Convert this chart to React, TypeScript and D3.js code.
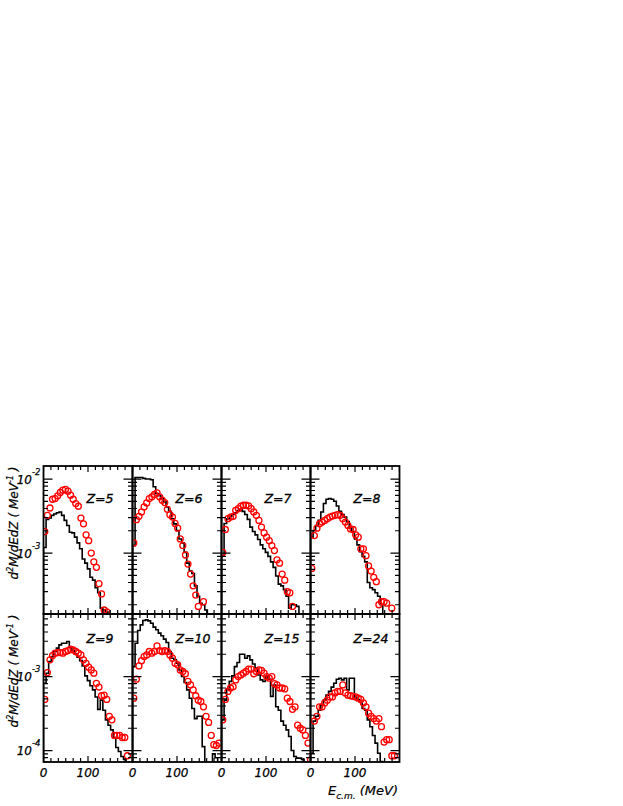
import React from 'react';
import * as d3 from 'd3';

// values are in units of 1e-3 MeV^-1
const UNIT_EXP = -3;
const BIN_WIDTH = 5.8; // MeV
const X_DOMAIN: [number, number] = [0, 200];
const Y_DOMAIN_TOP: [number, number] = [0.15, 15];
const Y_DOMAIN_BOTTOM: [number, number] = [0.07, 7];
const X_TICK_LABELS = [0, 100];
const X_TICK_STEP = 100 / 6;

const zLabels = ['Z=5', 'Z=6', 'Z=7', 'Z=8', 'Z=9', 'Z=10', 'Z=15', 'Z=24'];

// histograms (black steps)
const hist5 = [1.19, 2.85, 2.97, 3.23, 3.37, 3.51, 3.59, 3.23, 2.76, 2.36, 1.91, 1.87, 1.64, 1.37, 1.14, 0.83, 0.73, 0.61, 0.47, 0.43, 0.34, 0.29, 0.18, 0.17, 0.16];
const hist6 = [1.26, 10.5, 10.5, 10.5, 10.2, 10.0, 10.0, 9.8, 7.85, 6.38, 5.93, 5.45, 4.91, 4.2, 3.66, 2.91, 2.48, 2.02, 1.55, 1.37, 1.02, 0.73, 0.57, 0.53, 0.36, 0.26, 0.21, 0.20, 0.17];
const hist7 = [0.91, 2.51, 2.91, 3.13, 3.31, 3.51, 3.74, 3.86, 3.66, 3.31, 2.85, 2.24, 1.95, 1.76, 1.52, 1.29, 1.14, 1.02, 0.90, 0.76, 0.64, 0.49, 0.38, 0.36, 0.32, 0.26, 0.18, 0.20, 0.20, 0.19];
const hist8 = [1.64, 2.02, 2.36, 2.76, 3.59, 4.66, 5.33, 5.45, 5.33, 5.01, 4.33, 3.66, 3.30, 3.06, 2.67, 2.17, 1.95, 1.55, 1.29, 1.04, 0.90, 0.76, 0.40, 0.34, 0.32, 0.29, 0.26, 0.20];
const hist9 = [0.81, 1.11, 1.60, 1.86, 2.18, 2.42, 2.68, 2.82, 2.82, 2.97, 2.49, 2.24, 2.02, 1.82, 1.64, 1.39, 1.02, 0.88, 0.75, 0.66, 0.53, 0.36, 0.48, 0.35, 0.26, 0.22, 0.19, 0.15, 0.11, 0.097, 0.083, 0.076];
const hist10 = [1.36, 2.82, 4.19, 4.99, 5.71, 5.83, 5.65, 5.26, 4.65, 4.28, 3.86, 3.55, 3.20, 2.88, 2.18, 1.77, 1.68, 1.51, 1.23, 1.0, 0.83, 0.66, 0.51, 0.37, 0.27, 0.29, 0.29, 0.113, null, null, null, 0.09, 0.08];
const hist15 = [0.26, 0.48, 0.67, 0.86, 1.02, 1.36, 1.55, 2.0, 2.0, 1.77, 1.90, 1.68, 1.48, 1.30, 1.05, 0.90, 0.86, 1.0, 0.92, 0.54, 0.77, 0.39, 0.35, 0.25, 0.22, 0.19, 0.155, 0.10, 0.083, 0.079, 0.079, 0.076];
const hist24 = [0.092, 0.25, 0.29, 0.35, 0.41, 0.48, 0.56, 0.63, 0.72, 0.81, 0.92, 0.95, 0.90, 0.95, 0.66, 0.95, 0.95, 0.53, 0.49, 0.45, 0.37, 0.35, 0.26, 0.21, 0.16, 0.126, 0.092, 0.071];

// red open circles
const circ5 = [1.95, 3.23, 4.06, 5.33, 5.45, 5.93, 6.58, 7.08, 7.23, 6.86, 6.05, 5.33, 4.66, 4.29, 2.97, 2.48, 1.76, 1.47, 1.0, 0.76, 0.64, 0.385, 0.28, 0.17, 0.16];
const circ6 = [1.37, 2.82, 3.13, 3.59, 4.2, 4.75, 5.45, 5.74, 6.18, 6.52, 5.74, 5.18, 4.81, 3.9, 3.3, 3.06, 2.51, 2.17, 1.55, 1.26, 0.94, 0.71, 0.52, 0.36, 0.27, 0.19, null, 0.22];
const circ7 = [1.02, 2.08, 2.91, 3.06, 3.13, 3.78, 3.98, 4.29, 4.42, 4.42, 4.33, 3.98, 3.59, 3.23, 2.76, 2.24, 1.87, 1.64, 1.47, 1.26, 1.08, 0.81, 0.73, 0.52, 0.43, 0.30, 0.29, 0.19];
const circ8 = [0.62, 1.72, 2.17, 2.48, 2.62, 2.76, 2.91, 3.06, 3.16, 3.23, 3.30, 3.23, 2.91, 2.62, 2.36, 2.12, 2.08, 1.76, 1.64, 1.14, 1.14, 0.92, 0.67, 0.57, 0.47, 0.41, 0.20, 0.22, 0.22, 0.21, null, 0.18];
const circ9 = [0.49, 1.13, 1.68, 1.92, 2.07, 2.11, 2.11, 2.07, 2.18, 2.24, 2.34, 2.29, 2.18, 2.07, 1.96, 1.68, 1.51, 1.34, 1.23, 1.11, 0.81, 0.72, 0.55, 0.56, 0.49, 0.29, 0.26, 0.16, 0.16, 0.16, 0.15, 0.15, 0.085];
const circ10 = [0.51, 0.92, 1.39, 1.64, 1.86, 1.96, 2.18, 2.07, 2.18, 2.59, 2.24, 2.18, 2.24, 2.18, 1.96, 1.77, 1.51, 1.44, 1.23, 1.17, 1.09, 0.86, 0.77, 0.66, 0.55, 0.48, 0.46, 0.39, 0.29, 0.24, 0.16, 0.12, 0.117, 0.126];
const circ15 = [0.26, 0.49, 0.63, 0.70, 0.73, 0.90, 1.0, 1.05, 1.11, 1.17, 1.26, 1.26, 1.09, 1.17, 1.23, 1.21, 1.11, 1.0, 0.95, 1.0, 0.80, 0.77, 0.70, 0.70, 0.68, 0.51, 0.46, 0.36, 0.39, 0.22, 0.20, 0.19, 0.16, 0.126, 0.075];
const circ24 = [null, 0.25, 0.29, 0.39, 0.39, 0.44, 0.48, 0.53, 0.53, 0.60, 0.63, 0.63, 0.77, 0.60, 0.56, 0.55, 0.54, 0.53, 0.51, 0.49, 0.44, 0.39, 0.32, 0.29, 0.27, 0.25, 0.27, 0.21, 0.13, 0.14, 0.14, 0.085, 0.085];

const hists = [hist5, hist6, hist7, hist8, hist9, hist10, hist15, hist24];
const circs = [circ5, circ6, circ7, circ8, circ9, circ10, circ15, circ24];

const W = 623;
const H = 806;
const LEFT = 43.5;
const TOP = 466;
const PW = 89;
const PH = 148;
const FONT = "'DejaVu Sans', sans-serif";

function Panel({ idx }: { idx: number }) {
  const row = Math.floor(idx / 4);
  const col = idx % 4;
  const px = LEFT + col * PW;
  const py = TOP + row * PH;
  const x = d3.scaleLinear().domain(X_DOMAIN).range([px, px + PW]);
  const y = d3.scaleLog().domain(row === 0 ? Y_DOMAIN_TOP : Y_DOMAIN_BOTTOM).range([py + PH, py]);
  const bottom = py + PH + 5;
  const hist = hists[idx];
  const circ = circs[idx];

  let d = `M${x(0)},${bottom}`;
  hist.forEach((h, k) => {
    const yy = h == null ? bottom : y(h);
    d += `L${x(k * BIN_WIDTH)},${yy}L${x((k + 1) * BIN_WIDTH)},${yy}`;
  });
  d += `L${x(hist.length * BIN_WIDTH)},${bottom}`;

  const [lo, hi] = y.domain();
  const yTicks: { v: number; major: boolean }[] = [];
  for (let e = Math.floor(Math.log10(lo)); e <= Math.ceil(Math.log10(hi)); e++) {
    for (let m = 1; m <= 9; m++) {
      const v = m * Math.pow(10, e);
      if (v >= lo && v <= hi) yTicks.push({ v, major: m === 1 });
    }
  }
  const xTicks: { v: number; major: boolean }[] = [];
  for (let i = 0; i * X_TICK_STEP <= X_DOMAIN[1] + 1e-6; i++) {
    xTicks.push({ v: i * X_TICK_STEP, major: i % 6 === 0 });
  }
  const clipId = `clip${idx}`;
  const labelY = row === 0 ? py + 37 : py + 29;

  return (
    <g>
      <defs>
        <clipPath id={clipId}>
          <rect x={px} y={py} width={PW} height={PH} />
        </clipPath>
      </defs>
      <g clipPath={`url(#${clipId})`}>
        <path d={d} fill="none" stroke="#000" strokeWidth={1.6} />
        {circ.map((c, k) =>
          c == null ? null : (
            <circle key={k} cx={x((k + 0.5) * BIN_WIDTH)} cy={y(c)} r={3} fill="none" stroke="#ff0000" strokeWidth={1.3} />
          )
        )}
        {yTicks.map((t, i) => (
          <g key={'y' + i}>
            <line x1={px} x2={px + (t.major ? 9 : 4.5)} y1={y(t.v)} y2={y(t.v)} stroke="#000" strokeWidth={1.2} />
            <line x1={px + PW} x2={px + PW - (t.major ? 9 : 4.5)} y1={y(t.v)} y2={y(t.v)} stroke="#000" strokeWidth={1.2} />
          </g>
        ))}
        {xTicks.map((t, i) => (
          <g key={'x' + i}>
            <line x1={x(t.v)} x2={x(t.v)} y1={py + PH} y2={py + PH - (t.major ? 6 : 4)} stroke="#000" strokeWidth={1.2} />
            <line x1={x(t.v)} x2={x(t.v)} y1={py} y2={py + (t.major ? 6 : 4)} stroke="#000" strokeWidth={1.2} />
          </g>
        ))}
      </g>
      <rect x={px} y={py} width={PW} height={PH} fill="none" stroke="#000" strokeWidth={1.8} />
      <text x={px + 43} y={labelY} fontFamily={FONT} fontStyle="italic" fontSize={12.5} fill="#000" stroke="#000" strokeWidth={0.35}>
        {zLabels[idx]}
      </text>
      {col === 0 &&
        yTicks
          .filter((t) => t.major)
          .map((t, i) => (
            <text key={'yl' + i} x={px - 3} y={y(t.v) + 4.5} textAnchor="end" fontFamily={FONT} fontStyle="italic" fontSize={12} fill="#000" stroke="#000" strokeWidth={0.25}>
              10
              <tspan dy={-9} fontSize={8.5}>
                {String(Math.round(Math.log10(t.v)) + UNIT_EXP)}
              </tspan>
            </text>
          ))}
      {row === 1 &&
        X_TICK_LABELS.map((v) => (
          <text key={'xl' + v} x={x(v)} y={777} textAnchor="middle" fontFamily={FONT} fontStyle="italic" fontSize={12} fill="#000" stroke="#000" strokeWidth={0.25}>
            {v}
          </text>
        ))}
    </g>
  );
}

export default function App() {
  return (
    <svg width={W} height={H} style={{ position: 'absolute', left: 0, top: 0, background: '#fff' }}>
      {zLabels.map((_, i) => (
        <Panel key={i} idx={i} />
      ))}
      {[0, 1].map((r) => (
        <text
          key={r}
          transform={`translate(18,${TOP + r * PH + 57}) rotate(-90)`}
          textAnchor="middle"
          fontFamily={FONT}
          fontStyle="italic"
          fontSize={12}
          fill="#000"
          stroke="#000"
          strokeWidth={0.2}
        >
          d<tspan dy={-5} fontSize={8}>2</tspan>
          <tspan dy={5}>M/dEdZ ( MeV</tspan>
          <tspan dy={-5} fontSize={8}>-1</tspan>
          <tspan dy={5}> )</tspan>
        </text>
      ))}
      <text x={398} y={795} textAnchor="end" fontFamily={FONT} fontStyle="italic" fontSize={13} fill="#000" stroke="#000" strokeWidth={0.2}>
        E<tspan dy={4} fontSize={9}>c.m.</tspan>
        <tspan dy={-4}> (MeV)</tspan>
      </text>
    </svg>
  );
}
